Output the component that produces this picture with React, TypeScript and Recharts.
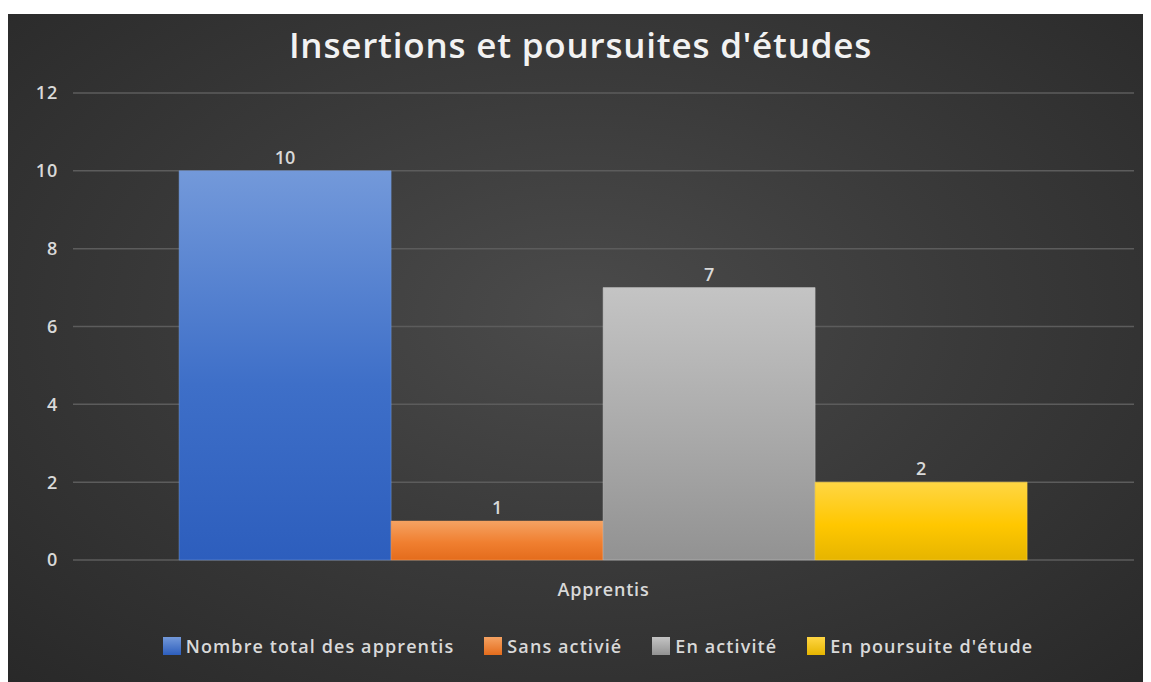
import React from "react"
import {
  BarChart,
  Bar,
  XAxis,
  YAxis,
  CartesianGrid,
  Legend,
  LabelList,
} from "recharts"

// Chart values
const categories = ["Apprentis"]
const seriesNames = [
  "Nombre total des apprentis",
  "Sans activié",
  "En activité",
  "En poursuite d'étude",
]
const seriesValues = [10, 1, 7, 2]
const yTicks = [0, 2, 4, 6, 8, 10, 12]

// gradient stops per series: [top, middle, bottom]
const seriesColors = [
  ["#7399da", "#3e6fc8", "#2d5ebd"],
  ["#f5a262", "#f07f30", "#e46c1c"],
  ["#c4c4c4", "#a9a9a9", "#929292"],
  ["#ffd644", "#ffc700", "#e6b500"],
]

const data = categories.map((name) => {
  const row: Record<string, string | number> = { name }
  seriesNames.forEach((s, i) => {
    row["s" + i] = seriesValues[i]
  })
  return row
})

const FONT = "'Open Sans', 'Noto Sans', sans-serif"
const W = 1143
const H = 668
const TEXT = "#d9d9d9"

// legend keeps the series order (recharts would sort it by name)
const renderLegend = () => (
  <div
    style={{
      display: "flex",
      justifyContent: "center",
      alignItems: "center",
      gap: 30,
      fontFamily: FONT,
      fontSize: 18,
      letterSpacing: 1.1,
      fontWeight: 600,
      color: TEXT,
    }}
  >
    {seriesNames.map((s, i) => (
      <div key={s} style={{ display: "flex", alignItems: "center", gap: 5 }}>
        <div
          style={{
            width: 18,
            height: 18,
            background: `linear-gradient(${seriesColors[i][0]}, ${seriesColors[i][2]})`,
          }}
        />
        <span>{s}</span>
      </div>
    ))}
  </div>
)

const tickStyle = {
  fill: TEXT,
  fontSize: 18,
  fontFamily: FONT,
  fontWeight: 600,
  letterSpacing: 0.8,
}

export default function App() {
  return (
    <div
      style={{
        position: "relative",
        marginTop: 6,
        width: W,
        height: H,
        background:
          "radial-gradient(ellipse 75% 80% at 50% 45%, #4b4b4b 0%, #3a3a3a 45%, #272727 100%)",
      }}
    >
      <div
        style={{
          position: "absolute",
          top: 7,
          left: 0,
          width: W + 2,
          textAlign: "center",
          fontFamily: FONT,
          fontWeight: 600,
          fontSize: 35,
          letterSpacing: 0.8,
          color: "#f2f2f2",
          zIndex: 1,
        }}
      >
        Insertions et poursuites d'études
      </div>
      <BarChart
        width={W}
        height={H}
        data={data}
        margin={{ top: 79, right: 17, left: 0, bottom: 58 }}
        barCategoryGap="10%"
        barGap={0}
      >
        <defs>
          {seriesColors.map((c, i) => (
            <linearGradient key={i} id={"grad" + i} x1="0" y1="0" x2="0" y2="1">
              <stop offset="0%" stopColor={c[0]} />
              <stop offset="55%" stopColor={c[1]} />
              <stop offset="100%" stopColor={c[2]} />
            </linearGradient>
          ))}
        </defs>
        <CartesianGrid vertical={false} stroke="#5c5c5c" strokeWidth={1.5} />
        <XAxis
          dataKey="name"
          axisLine={false}
          tickLine={false}
          tickSize={6}
          tickMargin={17}
          height={40}
          tick={tickStyle}
        />
        <YAxis
          width={65}
          domain={[0, 12]}
          ticks={yTicks}
          axisLine={false}
          tickLine={false}
          tickSize={6}
          tickMargin={9}
          tick={tickStyle}
        />
        <Legend
          content={renderLegend}
          wrapperStyle={{ left: 65, width: 1050, bottom: 24 }}
        />
        {seriesNames.map((s, i) => (
          <Bar
            key={s}
            dataKey={"s" + i}
            name={s}
            fill={`url(#grad${i})`}
            stroke={seriesColors[i][0]}
            strokeOpacity={0.5}
            isAnimationActive={false}
          >
            <LabelList
              dataKey={"s" + i}
              position="top"
              offset={7}
              fill={TEXT}
              fontSize={18}
              fontWeight={600}
              fontFamily={FONT}
            />
          </Bar>
        ))}
      </BarChart>
    </div>
  )
}
